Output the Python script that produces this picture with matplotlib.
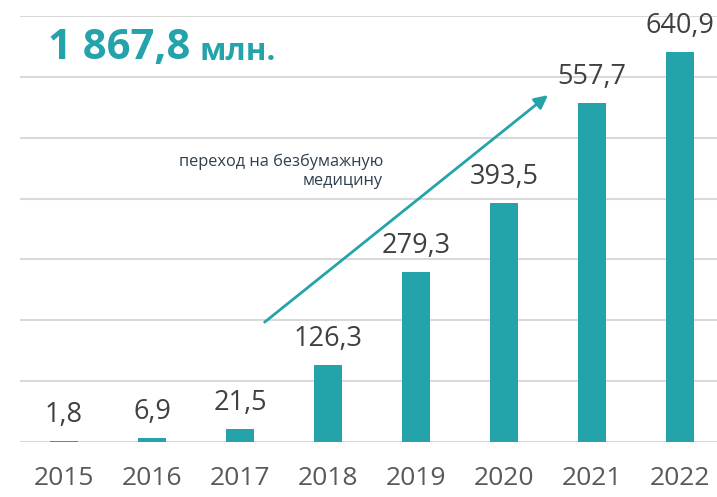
import numpy as np
import matplotlib.pyplot as plt

years = ["2015", "2016", "2017", "2018", "2019", "2020", "2021", "2022"]
values = [1.8, 6.9, 21.5, 126.3, 279.3, 393.5, 557.7, 640.9]
labels = ["1,8", "6,9", "21,5", "126,3", "279,3", "393,5", "557,7", "640,9"]

teal = "#24A4AA"
plt.rcParams['font.family'] = ['Open Sans', 'DejaVu Sans']

W, H = 717, 497
fig = plt.figure(figsize=(W / 100, H / 100), dpi=100)
ax = fig.add_axes([20 / W, (H - 442) / H, (W - 20) / W, 426 / H])

x = np.arange(len(years))
ax.bar(x, values, width=0.32, color=teal, zorder=3)

for xi, v, lab in zip(x, values, labels):
    ax.annotate(lab, (xi, v), xytext=(0, 13.5), textcoords="offset points",
                ha="center", va="baseline", fontsize=19.5, color="#404040")

ax.set_xlim(-0.5, -0.5 + (W - 20) / 88)
ax.set_ylim(0, 700)
ax.set_yticks(np.arange(0, 701, 100))
ax.yaxis.grid(True, color="#D9D9D9", linewidth=1.5, zorder=0)
ax.tick_params(axis="y", length=0, labelleft=False)
ax.set_xticks(x)
ax.set_xticklabels(years, fontsize=19, color="#595959")
ax.tick_params(axis="x", length=0, pad=17)
for s in ax.spines.values():
    s.set_visible(False)

# arrow and caption
ax.annotate("", xy=(5.5, 570), xytext=(2.28, 197),
            arrowprops=dict(arrowstyle="-|>", color=teal, lw=2,
                            mutation_scale=20, shrinkA=0, shrinkB=0))
ax.text(3.625, 445, "переход на безбумажную\nмедицину", ha="right", va="center",
        fontsize=11.8, color="#2E3F4F", linespacing=1.3)

fig.text(48 / W, 1 - 49 / H, "1 867,8", fontsize=30, fontweight="bold",
         color=teal, va="center", ha="left")
fig.text(200 / W, 1 - 52 / H, "млн.", fontsize=22.5, fontweight="bold",
         color=teal, va="center", ha="left")

fig.savefig("out.png", dpi=100)
